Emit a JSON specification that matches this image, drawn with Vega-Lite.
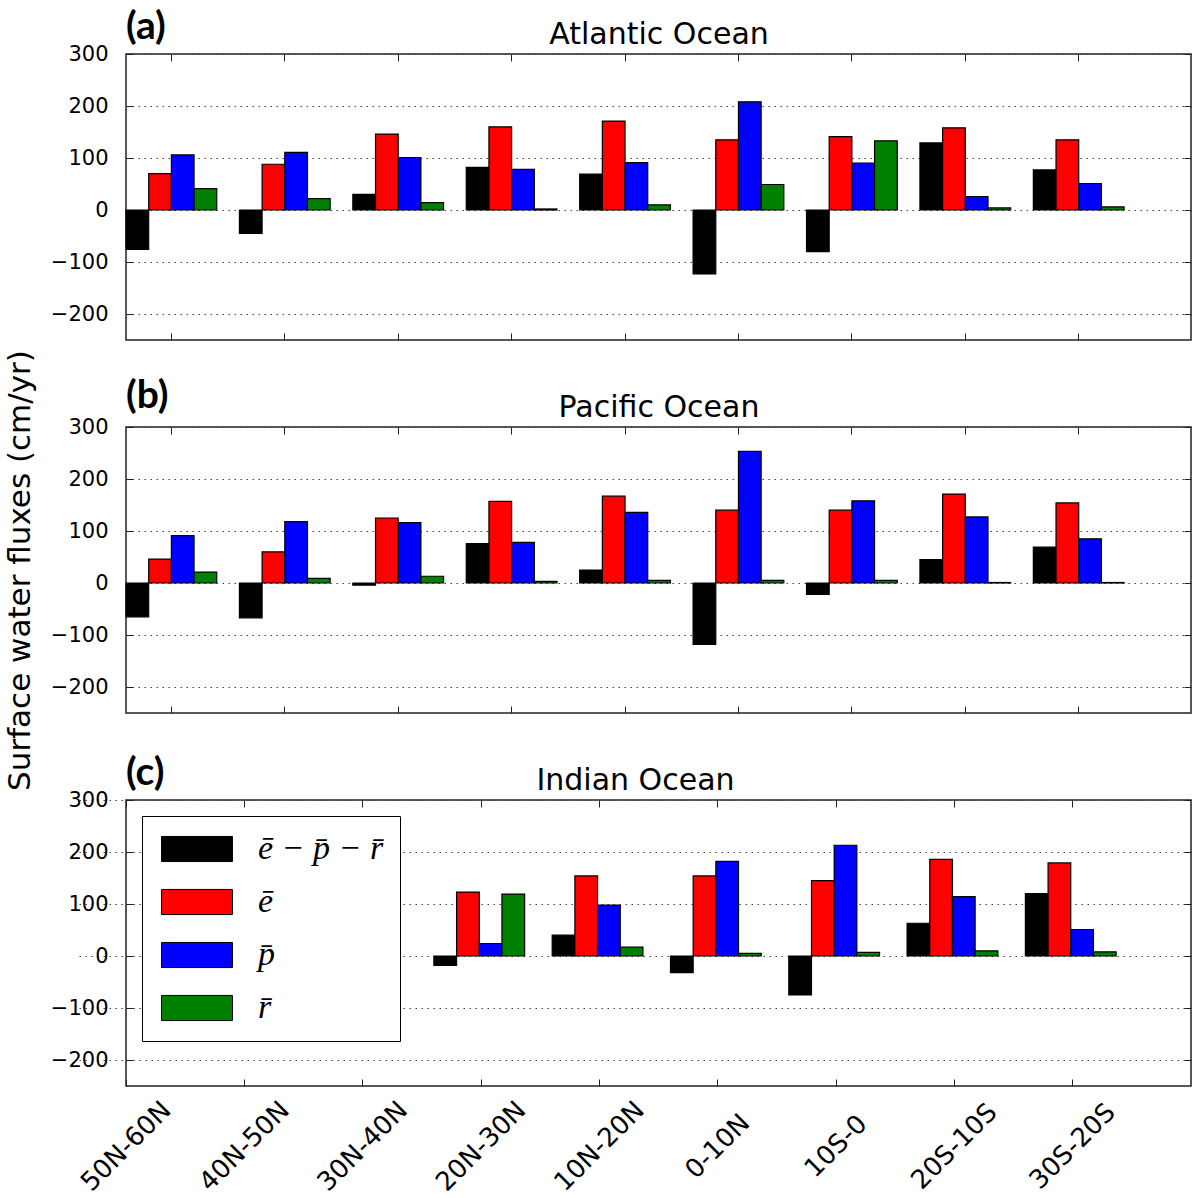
{
  "$schema": "https://vega.github.io/schema/vega-lite/v6.json",
  "padding": {"top": 6, "left": 3, "right": 8, "bottom": 0},
  "background": "white",
  "config": {
    "view": {"stroke": "#222", "strokeWidth": 1.5},
    "font": "DejaVu Sans",
    "axis": {"domain": false, "tickColor": "#222", "tickWidth": 1, "labelColor": "black", "titleColor": "black", "titleFontWeight": "normal"},
    "title": {"anchor": "start", "frame": "group", "font": "Lato", "fontWeight": "bold", "fontSize": 39, "color": "black", "baseline": "alphabetic", "offset": -27}
  },
  "datasets": {
    "fluxes": [
      {"ocean": "Atlantic", "region": "50N-60N", "series": "e\u0304 \u2212 p\u0304 \u2212 r\u0304", "value": -76},
      {"ocean": "Atlantic", "region": "50N-60N", "series": "e\u0304", "value": 70},
      {"ocean": "Atlantic", "region": "50N-60N", "series": "p\u0304", "value": 106},
      {"ocean": "Atlantic", "region": "50N-60N", "series": "r\u0304", "value": 41},
      {"ocean": "Atlantic", "region": "40N-50N", "series": "e\u0304 \u2212 p\u0304 \u2212 r\u0304", "value": -45},
      {"ocean": "Atlantic", "region": "40N-50N", "series": "e\u0304", "value": 88},
      {"ocean": "Atlantic", "region": "40N-50N", "series": "p\u0304", "value": 111},
      {"ocean": "Atlantic", "region": "40N-50N", "series": "r\u0304", "value": 22},
      {"ocean": "Atlantic", "region": "30N-40N", "series": "e\u0304 \u2212 p\u0304 \u2212 r\u0304", "value": 30},
      {"ocean": "Atlantic", "region": "30N-40N", "series": "e\u0304", "value": 146},
      {"ocean": "Atlantic", "region": "30N-40N", "series": "p\u0304", "value": 101},
      {"ocean": "Atlantic", "region": "30N-40N", "series": "r\u0304", "value": 14},
      {"ocean": "Atlantic", "region": "20N-30N", "series": "e\u0304 \u2212 p\u0304 \u2212 r\u0304", "value": 82},
      {"ocean": "Atlantic", "region": "20N-30N", "series": "e\u0304", "value": 160},
      {"ocean": "Atlantic", "region": "20N-30N", "series": "p\u0304", "value": 78},
      {"ocean": "Atlantic", "region": "20N-30N", "series": "r\u0304", "value": 2},
      {"ocean": "Atlantic", "region": "10N-20N", "series": "e\u0304 \u2212 p\u0304 \u2212 r\u0304", "value": 69},
      {"ocean": "Atlantic", "region": "10N-20N", "series": "e\u0304", "value": 171},
      {"ocean": "Atlantic", "region": "10N-20N", "series": "p\u0304", "value": 91},
      {"ocean": "Atlantic", "region": "10N-20N", "series": "r\u0304", "value": 10},
      {"ocean": "Atlantic", "region": "0-10N", "series": "e\u0304 \u2212 p\u0304 \u2212 r\u0304", "value": -123},
      {"ocean": "Atlantic", "region": "0-10N", "series": "e\u0304", "value": 135},
      {"ocean": "Atlantic", "region": "0-10N", "series": "p\u0304", "value": 208},
      {"ocean": "Atlantic", "region": "0-10N", "series": "r\u0304", "value": 49},
      {"ocean": "Atlantic", "region": "10S-0", "series": "e\u0304 \u2212 p\u0304 \u2212 r\u0304", "value": -80},
      {"ocean": "Atlantic", "region": "10S-0", "series": "e\u0304", "value": 141},
      {"ocean": "Atlantic", "region": "10S-0", "series": "p\u0304", "value": 90},
      {"ocean": "Atlantic", "region": "10S-0", "series": "r\u0304", "value": 133},
      {"ocean": "Atlantic", "region": "20S-10S", "series": "e\u0304 \u2212 p\u0304 \u2212 r\u0304", "value": 129},
      {"ocean": "Atlantic", "region": "20S-10S", "series": "e\u0304", "value": 158},
      {"ocean": "Atlantic", "region": "20S-10S", "series": "p\u0304", "value": 26},
      {"ocean": "Atlantic", "region": "20S-10S", "series": "r\u0304", "value": 4},
      {"ocean": "Atlantic", "region": "30S-20S", "series": "e\u0304 \u2212 p\u0304 \u2212 r\u0304", "value": 77},
      {"ocean": "Atlantic", "region": "30S-20S", "series": "e\u0304", "value": 135},
      {"ocean": "Atlantic", "region": "30S-20S", "series": "p\u0304", "value": 51},
      {"ocean": "Atlantic", "region": "30S-20S", "series": "r\u0304", "value": 6},
      {"ocean": "Pacific", "region": "50N-60N", "series": "e\u0304 \u2212 p\u0304 \u2212 r\u0304", "value": -65},
      {"ocean": "Pacific", "region": "50N-60N", "series": "e\u0304", "value": 46},
      {"ocean": "Pacific", "region": "50N-60N", "series": "p\u0304", "value": 91},
      {"ocean": "Pacific", "region": "50N-60N", "series": "r\u0304", "value": 21},
      {"ocean": "Pacific", "region": "40N-50N", "series": "e\u0304 \u2212 p\u0304 \u2212 r\u0304", "value": -67},
      {"ocean": "Pacific", "region": "40N-50N", "series": "e\u0304", "value": 60},
      {"ocean": "Pacific", "region": "40N-50N", "series": "p\u0304", "value": 118},
      {"ocean": "Pacific", "region": "40N-50N", "series": "r\u0304", "value": 9},
      {"ocean": "Pacific", "region": "30N-40N", "series": "e\u0304 \u2212 p\u0304 \u2212 r\u0304", "value": -4},
      {"ocean": "Pacific", "region": "30N-40N", "series": "e\u0304", "value": 125},
      {"ocean": "Pacific", "region": "30N-40N", "series": "p\u0304", "value": 116},
      {"ocean": "Pacific", "region": "30N-40N", "series": "r\u0304", "value": 13},
      {"ocean": "Pacific", "region": "20N-30N", "series": "e\u0304 \u2212 p\u0304 \u2212 r\u0304", "value": 76},
      {"ocean": "Pacific", "region": "20N-30N", "series": "e\u0304", "value": 157},
      {"ocean": "Pacific", "region": "20N-30N", "series": "p\u0304", "value": 78},
      {"ocean": "Pacific", "region": "20N-30N", "series": "r\u0304", "value": 3},
      {"ocean": "Pacific", "region": "10N-20N", "series": "e\u0304 \u2212 p\u0304 \u2212 r\u0304", "value": 25},
      {"ocean": "Pacific", "region": "10N-20N", "series": "e\u0304", "value": 167},
      {"ocean": "Pacific", "region": "10N-20N", "series": "p\u0304", "value": 136},
      {"ocean": "Pacific", "region": "10N-20N", "series": "r\u0304", "value": 5},
      {"ocean": "Pacific", "region": "0-10N", "series": "e\u0304 \u2212 p\u0304 \u2212 r\u0304", "value": -118},
      {"ocean": "Pacific", "region": "0-10N", "series": "e\u0304", "value": 140},
      {"ocean": "Pacific", "region": "0-10N", "series": "p\u0304", "value": 253},
      {"ocean": "Pacific", "region": "0-10N", "series": "r\u0304", "value": 5},
      {"ocean": "Pacific", "region": "10S-0", "series": "e\u0304 \u2212 p\u0304 \u2212 r\u0304", "value": -22},
      {"ocean": "Pacific", "region": "10S-0", "series": "e\u0304", "value": 140},
      {"ocean": "Pacific", "region": "10S-0", "series": "p\u0304", "value": 158},
      {"ocean": "Pacific", "region": "10S-0", "series": "r\u0304", "value": 5},
      {"ocean": "Pacific", "region": "20S-10S", "series": "e\u0304 \u2212 p\u0304 \u2212 r\u0304", "value": 45},
      {"ocean": "Pacific", "region": "20S-10S", "series": "e\u0304", "value": 171},
      {"ocean": "Pacific", "region": "20S-10S", "series": "p\u0304", "value": 127},
      {"ocean": "Pacific", "region": "20S-10S", "series": "r\u0304", "value": 1},
      {"ocean": "Pacific", "region": "30S-20S", "series": "e\u0304 \u2212 p\u0304 \u2212 r\u0304", "value": 69},
      {"ocean": "Pacific", "region": "30S-20S", "series": "e\u0304", "value": 154},
      {"ocean": "Pacific", "region": "30S-20S", "series": "p\u0304", "value": 85},
      {"ocean": "Pacific", "region": "30S-20S", "series": "r\u0304", "value": 1},
      {"ocean": "Indian", "region": "20N-30N", "series": "e\u0304 \u2212 p\u0304 \u2212 r\u0304", "value": -18},
      {"ocean": "Indian", "region": "20N-30N", "series": "e\u0304", "value": 123},
      {"ocean": "Indian", "region": "20N-30N", "series": "p\u0304", "value": 24},
      {"ocean": "Indian", "region": "20N-30N", "series": "r\u0304", "value": 119},
      {"ocean": "Indian", "region": "10N-20N", "series": "e\u0304 \u2212 p\u0304 \u2212 r\u0304", "value": 40},
      {"ocean": "Indian", "region": "10N-20N", "series": "e\u0304", "value": 154},
      {"ocean": "Indian", "region": "10N-20N", "series": "p\u0304", "value": 98},
      {"ocean": "Indian", "region": "10N-20N", "series": "r\u0304", "value": 17},
      {"ocean": "Indian", "region": "0-10N", "series": "e\u0304 \u2212 p\u0304 \u2212 r\u0304", "value": -32},
      {"ocean": "Indian", "region": "0-10N", "series": "e\u0304", "value": 154},
      {"ocean": "Indian", "region": "0-10N", "series": "p\u0304", "value": 182},
      {"ocean": "Indian", "region": "0-10N", "series": "r\u0304", "value": 5},
      {"ocean": "Indian", "region": "10S-0", "series": "e\u0304 \u2212 p\u0304 \u2212 r\u0304", "value": -75},
      {"ocean": "Indian", "region": "10S-0", "series": "e\u0304", "value": 145},
      {"ocean": "Indian", "region": "10S-0", "series": "p\u0304", "value": 213},
      {"ocean": "Indian", "region": "10S-0", "series": "r\u0304", "value": 7},
      {"ocean": "Indian", "region": "20S-10S", "series": "e\u0304 \u2212 p\u0304 \u2212 r\u0304", "value": 63},
      {"ocean": "Indian", "region": "20S-10S", "series": "e\u0304", "value": 186},
      {"ocean": "Indian", "region": "20S-10S", "series": "p\u0304", "value": 114},
      {"ocean": "Indian", "region": "20S-10S", "series": "r\u0304", "value": 10},
      {"ocean": "Indian", "region": "30S-20S", "series": "e\u0304 \u2212 p\u0304 \u2212 r\u0304", "value": 120},
      {"ocean": "Indian", "region": "30S-20S", "series": "e\u0304", "value": 179},
      {"ocean": "Indian", "region": "30S-20S", "series": "p\u0304", "value": 51},
      {"ocean": "Indian", "region": "30S-20S", "series": "r\u0304", "value": 8}
    ]
  },
  "data": {"name": "fluxes"},
  "spacing": 87,
  "bounds": "flush",
  "resolve": {"scale": {"color": "independent"}},
  "vconcat": [
    {
      "width": 1065, "height": 286,
      "title": {"text": "(a)"},
      "transform": [{"filter": "datum.ocean === 'Atlantic'"}],
      "layer": [
        {
          "mark": {"type": "bar", "stroke": "black", "strokeWidth": 1.2},
          "encoding": {
            "x": {"field": "region", "type": "nominal", "scale": {"domain": ["50N-60N","40N-50N","30N-40N","20N-30N","10N-20N","0-10N","10S-0","20S-10S","30S-20S"], "paddingInner": 0.2, "paddingOuter": 0.295, "align": 0}, "axis": {"orient": "bottom", "labels": false, "tickSize": -7, "title": null, "grid": false}},
            "xOffset": {"field": "series", "scale": {"domain": ["e\u0304 \u2212 p\u0304 \u2212 r\u0304", "e\u0304", "p\u0304", "r\u0304"]}},
            "y": {"field": "value", "type": "quantitative", "scale": {"domain": [-250, 300], "nice": false}, "axis": {"orient": "left", "values": [-200,-100,0,100,200,300], "tickSize": -7, "labelPadding": 25, "labelFontSize": 21, "title": null, "grid": true, "gridDash": [1.5, 4.5], "gridColor": "#444", "gridWidth": 1}},
            "color": {"field": "series", "scale": {"domain": ["e\u0304 \u2212 p\u0304 \u2212 r\u0304", "e\u0304", "p\u0304", "r\u0304"], "range": ["#000000", "#ff0000", "#0000ff", "#008000"]}, "legend": null}
          }
        },
        {
          "mark": {"type": "bar", "opacity": 0},
          "encoding": {
            "x": {"field": "region", "type": "nominal", "axis": {"orient": "top", "labels": false, "tickSize": -7, "title": "Atlantic Ocean", "titleFontSize": 30, "titlePadding": 4, "grid": false}},
            "xOffset": {"field": "series"},
            "y": {"field": "value", "type": "quantitative", "axis": {"orient": "right", "values": [-200,-100,0,100,200,300], "labels": false, "tickSize": -7, "title": null, "grid": false}}
          }
        }
      ],
      "resolve": {"axis": {"x": "independent", "y": "independent"}}
    },
    {
      "width": 1065, "height": 286,
      "title": {"text": "(b)", "offset": -66},
      "transform": [{"filter": "datum.ocean === 'Pacific'"}],
      "layer": [
        {
          "mark": {"type": "bar", "stroke": "black", "strokeWidth": 1.2},
          "encoding": {
            "x": {"field": "region", "type": "nominal", "scale": {"domain": ["50N-60N","40N-50N","30N-40N","20N-30N","10N-20N","0-10N","10S-0","20S-10S","30S-20S"], "paddingInner": 0.2, "paddingOuter": 0.295, "align": 0}, "axis": {"orient": "bottom", "labels": false, "tickSize": -7, "title": null, "grid": false}},
            "xOffset": {"field": "series", "scale": {"domain": ["e\u0304 \u2212 p\u0304 \u2212 r\u0304", "e\u0304", "p\u0304", "r\u0304"]}},
            "y": {"field": "value", "type": "quantitative", "scale": {"domain": [-250, 300], "nice": false}, "axis": {"orient": "left", "values": [-200,-100,0,100,200,300], "tickSize": -7, "labelPadding": 25, "labelFontSize": 21, "title": "Surface water fluxes (cm/yr)", "titleFontSize": 31, "titlePadding": 14, "grid": true, "gridDash": [1.5, 4.5], "gridColor": "#444", "gridWidth": 1}},
            "color": {"field": "series", "scale": {"domain": ["e\u0304 \u2212 p\u0304 \u2212 r\u0304", "e\u0304", "p\u0304", "r\u0304"], "range": ["#000000", "#ff0000", "#0000ff", "#008000"]}, "legend": null}
          }
        },
        {
          "mark": {"type": "bar", "opacity": 0},
          "encoding": {
            "x": {"field": "region", "type": "nominal", "axis": {"orient": "top", "labels": false, "tickSize": -7, "title": "Pacific Ocean", "titleFontSize": 30, "titlePadding": 4, "grid": false}},
            "xOffset": {"field": "series"},
            "y": {"field": "value", "type": "quantitative", "axis": {"orient": "right", "values": [-200,-100,0,100,200,300], "labels": false, "tickSize": -7, "title": null, "grid": false}}
          }
        }
      ],
      "resolve": {"axis": {"x": "independent", "y": "independent"}}
    },
    {
      "width": 1065, "height": 286,
      "title": {"text": "(c)"},
      "transform": [{"filter": "datum.ocean === 'Indian'"}],
      "layer": [
        {
          "mark": {"type": "bar", "stroke": "black", "strokeWidth": 1.2},
          "encoding": {
            "x": {"field": "region", "type": "nominal", "scale": {"domain": ["50N-60N","40N-50N","30N-40N","20N-30N","10N-20N","0-10N","10S-0","20S-10S","30S-20S"], "range": [-47, 1065], "paddingInner": 0.2, "paddingOuter": 0.3, "align": 0}, "axis": {"orient": "bottom", "labels": true, "labelAngle": -45, "labelAlign": "center", "labelBaseline": "middle", "labelPadding": 67, "labelFontSize": 26, "tickSize": -7, "title": null, "grid": false}},
            "xOffset": {"field": "series", "scale": {"domain": ["e\u0304 \u2212 p\u0304 \u2212 r\u0304", "e\u0304", "p\u0304", "r\u0304"]}},
            "y": {"field": "value", "type": "quantitative", "scale": {"domain": [-250, 300], "nice": false}, "axis": {"orient": "left", "values": [-200,-100,0,100,200,300], "tickSize": -7, "labelPadding": 25, "labelFontSize": 21, "title": null, "grid": true, "gridDash": [1.5, 4.5], "gridColor": "#444", "gridWidth": 1}},
            "color": {"field": "series", "scale": {"domain": ["e\u0304 \u2212 p\u0304 \u2212 r\u0304", "e\u0304", "p\u0304", "r\u0304"], "range": ["#000000", "#ff0000", "#0000ff", "#008000"]}, "legend": {"orient": "top-left", "offset": 16, "title": null, "fillColor": "white", "strokeColor": "black", "padding": 16, "symbolType": "M-2.6,-0.92H2.6V0.92H-2.6Z", "symbolSize": 745, "symbolOffset": 22, "symbolStrokeColor": "black", "symbolStrokeWidth": 1, "symbolOpacity": 1, "labelFont": "Liberation Serif", "labelFontStyle": "italic", "labelFontSize": 34, "labelOffset": 44, "labelColor": "black", "rowPadding": 19, "cornerRadius": 0}}
          }
        },
        {
          "mark": {"type": "bar", "opacity": 0},
          "encoding": {
            "x": {"field": "region", "type": "nominal", "axis": {"orient": "top", "labels": false, "tickSize": -7, "title": "Indian Ocean", "titleFontSize": 30, "titlePadding": 4, "grid": false}},
            "xOffset": {"field": "series"},
            "y": {"field": "value", "type": "quantitative", "axis": {"orient": "right", "values": [-200,-100,0,100,200,300], "labels": false, "tickSize": -7, "title": null, "grid": false}}
          }
        }
      ],
      "resolve": {"axis": {"x": "independent", "y": "independent"}}
    }
  ]
}
